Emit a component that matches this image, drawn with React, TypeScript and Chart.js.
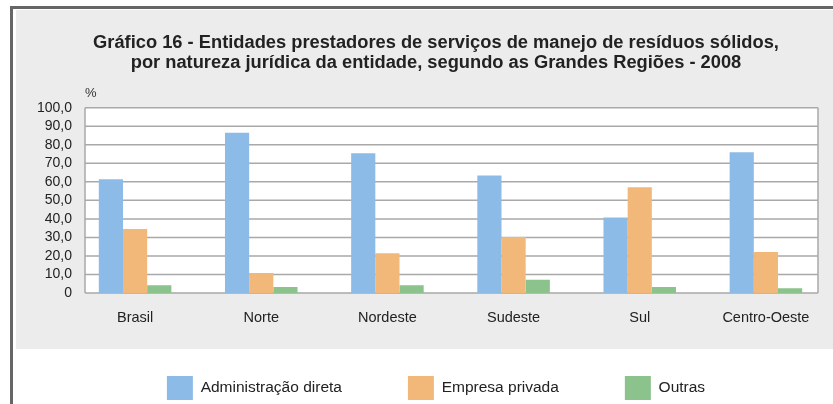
import React, { useEffect, useRef } from "react";
import { Chart, registerables } from "chart.js";

Chart.register(...registerables);

const categories = ["Brasil", "Norte", "Nordeste", "Sudeste", "Sul", "Centro-Oeste"];
const seriesNames = ["Administração direta", "Empresa privada", "Outras"];
const adminDireta = [61.4, 86.5, 75.4, 63.4, 40.7, 76.0];
const empresaPrivada = [34.6, 10.8, 21.5, 30.2, 57.1, 22.1];
const outras = [4.2, 3.2, 4.2, 7.2, 3.2, 2.5];
const yTickLabels = ["0", "10,0", "20,0", "30,0", "40,0", "50,0", "60,0", "70,0", "80,0", "90,0", "100,0"];
const titleLines = [
  "Gráfico 16 - Entidades prestadores de serviços de manejo de resíduos sólidos,",
  "por natureza jurídica da entidade, segundo as Grandes Regiões - 2008",
];
const unitLabel = "%";

const FONT = "'Liberation Sans', Arial, sans-serif";
const Y_FONT_SIZE = 14;

const plotBoxPlugin = {
  id: "plotBox",
  beforeDatasetsDraw(chart: any) {
    const { ctx, chartArea, scales } = chart;
    const y = scales.y;
    const left = chartArea.left + 13;
    const right = chartArea.right - 11;
    const top = y.getPixelForValue(100);
    const bottom = y.getPixelForValue(0);
    ctx.save();
    ctx.fillStyle = "#ffffff";
    ctx.fillRect(left, top, right - left, bottom - top);
    ctx.strokeStyle = "#a9a9a9";
    ctx.lineWidth = 1.5;
    y.ticks.forEach((t: any) => {
      const py = y.getPixelForValue(t.value);
      ctx.beginPath();
      ctx.moveTo(left, py);
      ctx.lineTo(right, py);
      ctx.stroke();
    });
    ctx.beginPath();
    ctx.moveTo(left, top);
    ctx.lineTo(left, bottom);
    ctx.moveTo(right, top);
    ctx.lineTo(right, bottom);
    ctx.stroke();
    ctx.fillStyle = "#333";
    ctx.font = `13px ${FONT}`;
    ctx.textAlign = "left";
    ctx.textBaseline = "middle";
    ctx.fillText(unitLabel, left, top - 14);
    ctx.restore();
  },
};

export default function App() {
  const canvasRef = useRef<HTMLCanvasElement | null>(null);

  useEffect(() => {
    if (!canvasRef.current) return;
    const mctx = document.createElement("canvas").getContext("2d") as CanvasRenderingContext2D;
    mctx.font = `${Y_FONT_SIZE}px ${FONT}`;
    const widest = Math.max(...yTickLabels.map((s) => mctx.measureText(s).width));

    const chart = new Chart(canvasRef.current, {
      type: "bar",
      data: {
        labels: categories,
        datasets: [
          { label: seriesNames[0], data: adminDireta, backgroundColor: "#8dbbe8", borderWidth: 0 },
          { label: seriesNames[1], data: empresaPrivada, backgroundColor: "#f2b87a", borderWidth: 0 },
          { label: seriesNames[2], data: outras, backgroundColor: "#8cc28b", borderWidth: 0 },
        ],
      },
      options: {
        responsive: false,
        animation: false,
        events: [],
        layout: { padding: { left: 43, right: 4, top: 0, bottom: 0 } },
        datasets: { bar: { categoryPercentage: 0.575, barPercentage: 1.0 } },
        scales: {
          x: {
            grid: { display: false, drawTicks: false },
            border: { display: false },
            ticks: {
              mirror: true,
              color: "#222",
              font: { family: FONT, size: 14.5 },
              padding: -33.4,
              maxRotation: 0,
              autoSkip: false,
            },
            afterFit: (scale: any) => {
              scale.height = 17;
            },
          },
          y: {
            min: 0,
            max: 100,
            grid: { display: false, drawTicks: false },
            border: { display: false },
            ticks: {
              stepSize: 10,
              autoSkip: false,
              mirror: true,
              crossAlign: "far",
              padding: -widest,
              color: "#222",
              font: { family: FONT, size: Y_FONT_SIZE },
              callback: (v: any) => yTickLabels[Math.round(Number(v) / 10)],
            },
            afterFit: (scale: any) => {
              scale.width = 29;
            },
          },
        },
        plugins: {
          title: {
            display: true,
            text: titleLines,
            color: "#222",
            font: { family: FONT, size: 18.3, weight: "bold", lineHeight: 1.093 },
            padding: { top: 33.3, bottom: 34.4 },
          },
          legend: {
            display: true,
            position: "bottom",
            maxHeight: 94,
            labels: {
              boxWidth: 26,
              boxHeight: 24,
              padding: 66,
              color: "#222",
              font: { family: FONT, size: 15.5 },
            },
          },
          tooltip: { enabled: false },
        },
      },
      plugins: [plotBoxPlugin],
    } as any);
    return () => chart.destroy();
  }, []);

  return (
    <div style={{ position: "fixed", left: 0, top: 0, width: 833, height: 404, background: "#ffffff", overflow: "hidden" }}>
      <div style={{ position: "absolute", left: 10, top: 6, width: 823, height: 3, background: "#666666" }} />
      <div style={{ position: "absolute", left: 10, top: 6, width: 3, height: 398, background: "#666666" }} />
      <div
        style={{
          position: "absolute",
          left: 16,
          top: 10,
          width: 817,
          height: 339,
          background: "#ececec",
          boxShadow: "0 0 4px 2px #ececec inset",
        }}
      />
      <canvas ref={canvasRef} width={833} height={404} style={{ position: "absolute", left: 0, top: 0, width: 833, height: 404 }} />
    </div>
  );
}
